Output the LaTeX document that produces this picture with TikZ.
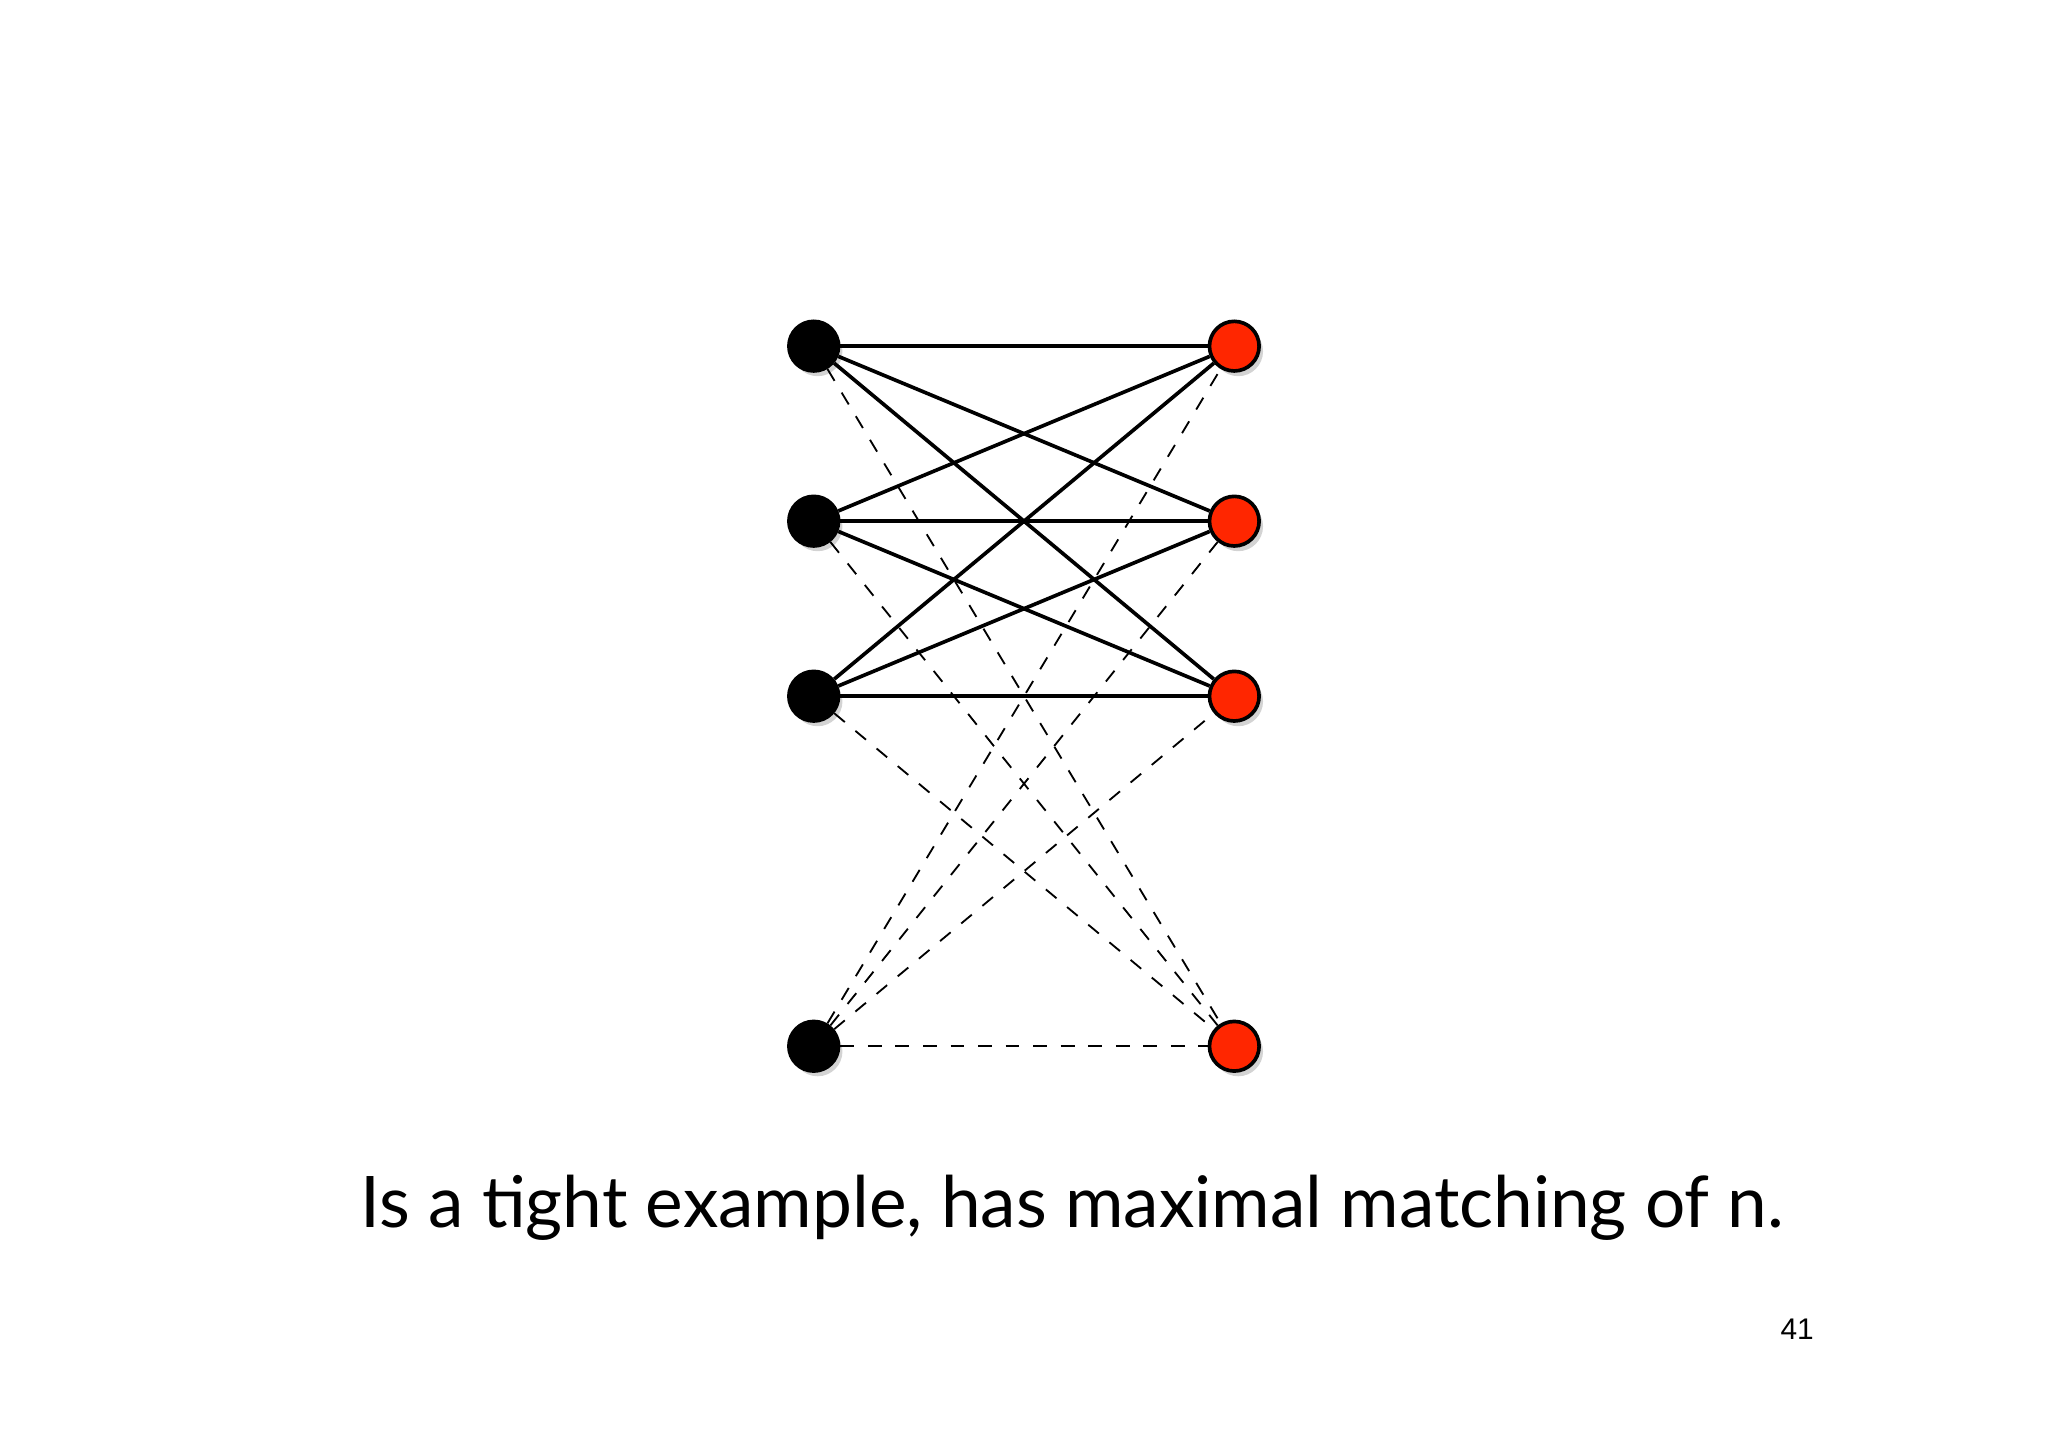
\documentclass[tikz,border=0pt]{standalone}
\usepackage{fontspec}
\setmainfont{Lato}
\newfontfamily\numfont{Liberation Sans}
\usetikzlibrary{shadows}
\definecolor{matchred}{RGB}{255,38,0}
\tikzset{
  vtx/.style={circle, draw=black, thick, minimum size=0.38cm, inner sep=0pt,
    drop shadow={shadow xshift=0.3mm, shadow yshift=-0.4mm, opacity=0.35}},
  lvtx/.style={vtx, fill=black},
  rvtx/.style={vtx, fill=matchred},
  edge/.style={thick},
  dedge/.style={dashed, thin}
}
\begin{document}
\begin{tikzpicture}
  \useasboundingbox (0,0) rectangle (15.68,-11.07);
  \node[lvtx] at (6.23,-2.65) (a1) {};
  \node[lvtx] at (6.23,-3.99) (a2) {};
  \node[lvtx] at (6.23,-5.33) (a3) {};
  \node[lvtx] at (6.23,-8.01) (a4) {};
  \node[rvtx] at (9.45,-2.65) (b1) {};
  \node[rvtx] at (9.45,-3.99) (b2) {};
  \node[rvtx] at (9.45,-5.33) (b3) {};
  \node[rvtx] at (9.45,-8.01) (b4) {};

  \begin{scope}[on background layer/.style={}]
  \foreach \i in {1,2,3}
    \foreach \j in {1,2,3}
      \draw[edge] (a\i) -- (b\j);
  \foreach \i in {1,2,3} {
    \draw[dedge] (a\i) -- (b4);
    \draw[dedge] (a4) -- (b\i);
  }
  \draw[dedge] (a4) -- (b4);
  \end{scope}

  \node at (8.21,-9.25) (caption) {\fontsize{15.5}{18}\selectfont Is a tight example, has maximal matching of n.};
  \node at (13.76,-10.18) (page) {\numfont\fontsize{6.5}{8}\selectfont 41};
\end{tikzpicture}
\end{document}
